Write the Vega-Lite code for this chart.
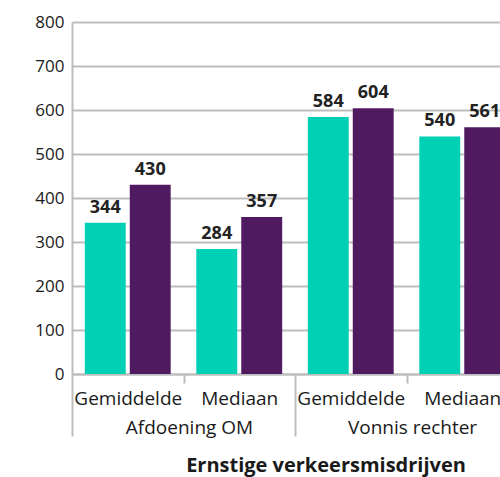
{
  "$schema": "https://vega.github.io/schema/vega-lite/v6.json",
  "autosize": "none",
  "width": 446,
  "height": 352,
  "padding": {"left": 72, "top": 22, "right": -18, "bottom": 103},
  "config": {"font": "Open Sans", "view": {"stroke": null}},
  "title": {"text": "Ernstige verkeersmisdrijven", "orient": "bottom", "anchor": "middle", "frame": "group", "fontSize": 20, "fontWeight": "bold", "color": "#1a1a1a", "offset": 18, "dx": 31},
  "data": {"values": [
    {"groep": "Afdoening OM", "maat": "Gemiddelde", "cat": "Afdoening OM|Gemiddelde", "reeks": "1", "waarde": 344},
    {"groep": "Afdoening OM", "maat": "Gemiddelde", "cat": "Afdoening OM|Gemiddelde", "reeks": "2", "waarde": 430},
    {"groep": "Afdoening OM", "maat": "Mediaan", "cat": "Afdoening OM|Mediaan", "reeks": "1", "waarde": 284},
    {"groep": "Afdoening OM", "maat": "Mediaan", "cat": "Afdoening OM|Mediaan", "reeks": "2", "waarde": 357},
    {"groep": "Vonnis rechter", "maat": "Gemiddelde", "cat": "Vonnis rechter|Gemiddelde", "reeks": "1", "waarde": 584},
    {"groep": "Vonnis rechter", "maat": "Gemiddelde", "cat": "Vonnis rechter|Gemiddelde", "reeks": "2", "waarde": 604},
    {"groep": "Vonnis rechter", "maat": "Mediaan", "cat": "Vonnis rechter|Mediaan", "reeks": "1", "waarde": 540},
    {"groep": "Vonnis rechter", "maat": "Mediaan", "cat": "Vonnis rechter|Mediaan", "reeks": "2", "waarde": 561}
  ]},
  "encoding": {
    "x": {
      "field": "cat", "type": "nominal", "sort": null,
      "scale": {"paddingInner": 0, "paddingOuter": 0},
      "axis": {
        "title": null, "labelAngle": 0, "labelFontSize": 19, "labelColor": "#1a1a1a",
        "labelExpr": "isString(datum.value) ? split(datum.value, '|')[1] : ''",
        "tickBand": "extent", "tickSize": 62, "tickWidth": 2, "tickColor": "#BDBDBD",
        "tickDash": {"condition": {"test": "isString(datum.value) && indexof(datum.value, 'Gemiddelde') >= 0", "value": [9, 200]}, "value": [62, 0]},
        "labelPadding": -47, "domainColor": "#BDBDBD", "domainWidth": 2, "grid": false
      }
    },
    "y": {
      "field": "waarde", "type": "quantitative",
      "scale": {"domain": [0, 800]},
      "axis": {
        "title": null, "values": [0, 100, 200, 300, 400, 500, 600, 700, 800],
        "labelFontSize": 17, "labelColor": "#1a1a1a", "labelPadding": 8, "ticks": false,
        "domainColor": "#BDBDBD", "domainWidth": 2, "gridColor": "#BDBDBD", "gridWidth": 2
      }
    }
  },
  "layer": [
    {
      "mark": {"type": "bar"},
      "encoding": {
        "xOffset": {"field": "reeks", "type": "nominal", "scale": {"paddingInner": 0.09, "paddingOuter": 0.285}},
        "color": {"field": "reeks", "type": "nominal", "scale": {"range": ["#00D0B4", "#4F1A5F"]}, "legend": null}
      }
    },
    {
      "mark": {"type": "text", "fontSize": 18, "fontWeight": "bold", "color": "#222222", "baseline": "alphabetic", "dy": -10},
      "encoding": {
        "xOffset": {"field": "reeks", "type": "nominal", "scale": {"paddingInner": 0.09, "paddingOuter": 0.285}},
        "text": {"field": "waarde", "type": "quantitative"}
      }
    },
    {
      "transform": [{"filter": "datum.maat == 'Gemiddelde' && datum.reeks == '1'"}],
      "mark": {"type": "text", "fontSize": 19, "color": "#1a1a1a", "baseline": "alphabetic", "dy": 60, "dx": 6},
      "encoding": {
        "x": {"field": "cat", "type": "nominal", "sort": null, "bandPosition": 1},
        "y": {"datum": 0},
        "text": {"field": "groep"}
      }
    }
  ]
}
